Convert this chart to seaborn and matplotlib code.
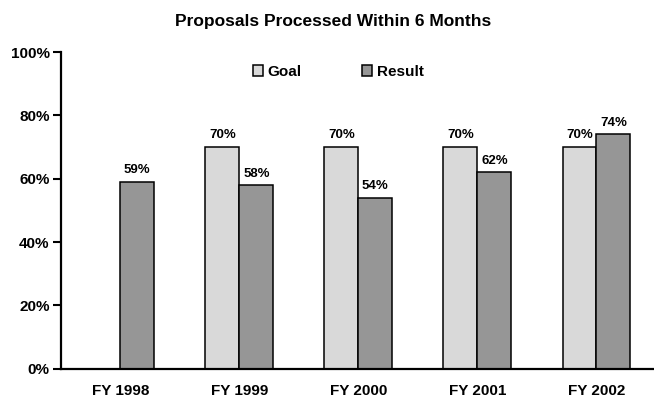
import matplotlib
matplotlib.use("Agg")
import matplotlib.pyplot as plt
import pandas as pd
import seaborn as sns

# values
years = ["FY 1998", "FY 1999", "FY 2000", "FY 2001", "FY 2002"]
goal = [None, 70, 70, 70, 70]   # no goal bar for FY 1998
result = [59, 58, 54, 62, 74]
series = ["Goal", "Result"]
colors = {"Goal": "#d9d9d9", "Result": "#969696"}
y_ticks = [0, 20, 40, 60, 80, 100]

rows = []
for i, yr in enumerate(years):
    if goal[i] is not None:
        rows.append({"year": yr, "series": "Goal", "pct": goal[i]})
    rows.append({"year": yr, "series": "Result", "pct": result[i]})
df = pd.DataFrame(rows)

sns.set_theme(style="ticks")
plt.rcParams["font.family"] = ["Liberation Sans", "DejaVu Sans"]
plt.rcParams["font.weight"] = "bold"
plt.rcParams["text.color"] = "black"
plt.rcParams["xtick.color"] = "black"
plt.rcParams["ytick.color"] = "black"
plt.rcParams["axes.edgecolor"] = "black"

fig = plt.figure(figsize=(6.54, 4.0), dpi=100)
ax = fig.add_axes([0.093, 0.078, 0.91, 0.792])

sns.barplot(data=df, x="year", y="pct", hue="series", order=years,
            hue_order=series, palette=colors, width=0.57, gap=0,
            edgecolor="black", linewidth=1.1, errorbar=None, ax=ax)

for cont in ax.containers:
    ax.bar_label(cont, fmt="%d%%", padding=4, fontsize=9.5,
                 fontweight="bold", color="black")

ax.set_xlim(-0.5, 4.5)
ax.set_ylim(0, 100)
ax.set_yticks(y_ticks)
ax.set_yticklabels([f"{t}%" for t in y_ticks], fontsize=11, fontweight="bold")
ax.set_xticks(range(len(years)))
ax.set_xticklabels(years, fontsize=11, fontweight="bold")
ax.tick_params(axis="x", length=0, pad=11)
ax.tick_params(axis="y", length=6, width=1.5, pad=2, direction="out")
ax.set_xlabel("")
ax.set_ylabel("")

sns.despine(ax=ax)
ax.spines["left"].set_linewidth(1.6)
ax.spines["bottom"].set_linewidth(1.6)

leg = ax.legend(loc="center", bbox_to_anchor=(0.466, 0.937), ncol=2,
                frameon=False, fontsize=11, handlelength=0.7,
                handleheight=0.7, handletextpad=0.3, columnspacing=3.9)
for h in leg.legend_handles:
    h.set_edgecolor("black")
    h.set_linewidth(1.1)
for t in leg.get_texts():
    t.set_fontweight("bold")
    t.set_color("black")

fig.text(0.51, 0.946, "Proposals Processed Within 6 Months", ha="center",
         va="center", fontsize=12.5, fontweight="bold")

fig.savefig("out.png", dpi=100)
